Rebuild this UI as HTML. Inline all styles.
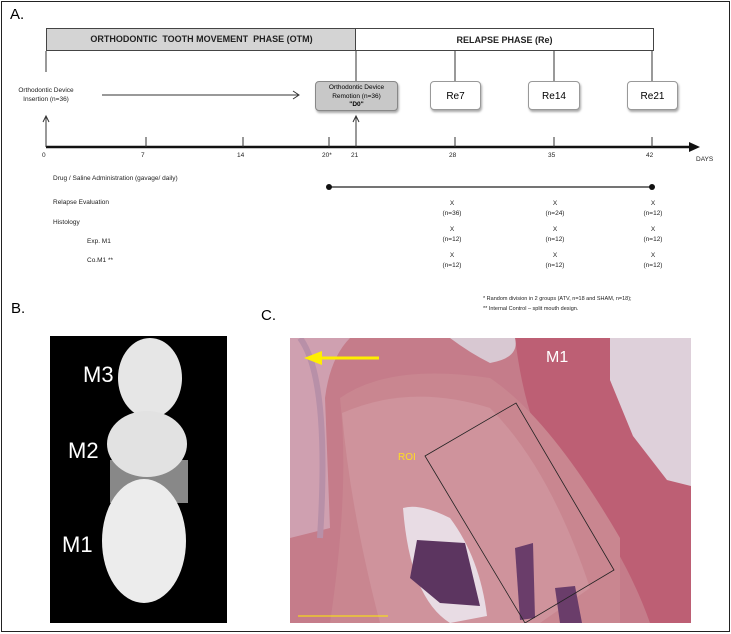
<!DOCTYPE html>
<html><head><style>
body{margin:0;width:731px;height:634px;background:#fff;position:relative;overflow:hidden;font-family:"Liberation Sans",sans-serif}
.a{position:absolute}
.t{position:absolute;font-size:6.5px;color:#222;white-space:nowrap}
.c{text-align:center}
.b{position:absolute;border:1px solid #999;border-radius:4px;box-sizing:border-box;box-shadow:1px 2px 2px #aaa;text-align:center;background:#fff}
</style></head><body>
<div class="a" style="left:1px;top:1px;width:727px;height:629px;border:1px solid #222"></div>
<div class="a" style="left:10px;top:6px;font-size:15px">A.</div>
<div class="a" style="left:46px;top:28px;width:309px;height:21px;background:#d4d4d4;border:1px solid #444;border-right:none;font-size:9px;font-weight:bold;line-height:21px;text-align:center;color:#222">ORTHODONTIC &nbsp;TOOTH MOVEMENT &nbsp;PHASE (OTM)</div>
<div class="a" style="left:355px;top:28px;width:297px;height:21px;border:1px solid #444;font-size:9px;font-weight:bold;line-height:23px;text-align:center;color:#222">RELAPSE PHASE (Re)</div>
<svg class="a" style="left:0;top:0" width="731" height="300">
<g stroke="#333" stroke-width="1" fill="none">
<line x1="46" y1="51" x2="46" y2="72"/><line x1="356" y1="51" x2="356" y2="81"/>
<line x1="455" y1="51" x2="455" y2="81"/><line x1="554" y1="51" x2="554" y2="81"/><line x1="652" y1="51" x2="652" y2="81"/>
<line x1="102" y1="95" x2="298" y2="95"/><polyline points="293,91 299,95 293,99"/>
<line x1="46" y1="137" x2="46" y2="117"/><polyline points="43,122 46,116 49,122"/>
<line x1="356" y1="137" x2="356" y2="117"/><polyline points="353,122 356,116 359,122"/>
</g>
<line x1="46" y1="147" x2="692" y2="147" stroke="#111" stroke-width="2.5"/>
<polygon points="689,142 700,147 689,152" fill="#111"/>
<g stroke="#333" stroke-width="1"><line x1="46" y1="137" x2="46" y2="147"/><line x1="146" y1="137" x2="146" y2="147"/><line x1="243" y1="137" x2="243" y2="147"/><line x1="329" y1="137" x2="329" y2="147"/><line x1="356" y1="137" x2="356" y2="147"/><line x1="455" y1="137" x2="455" y2="147"/><line x1="554" y1="137" x2="554" y2="147"/><line x1="652" y1="137" x2="652" y2="147"/></g>
<line x1="329" y1="187" x2="652" y2="187" stroke="#222" stroke-width="1.2"/>
<circle cx="329" cy="187" r="3" fill="#111"/><circle cx="652" cy="187" r="3" fill="#111"/>
</svg>
<div class="t c" style="left:2px;top:86px;width:88px;line-height:9px">Orthodontic Device<br>Insertion (n=36)</div>
<div class="b" style="left:315px;top:81px;width:83px;height:30px;background:#c8c8c8;border-color:#888;font-size:6.5px;line-height:8.5px;padding-top:2px">Orthodontic Device<br>Remotion (n=36)<br><b>"D0"</b></div>
<div class="b" style="left:430px;top:81px;width:51px;height:29px;font-size:10px;line-height:29px">Re7</div>
<div class="b" style="left:528px;top:81px;width:52px;height:29px;font-size:10px;line-height:29px">Re14</div>
<div class="b" style="left:627px;top:81px;width:51px;height:29px;font-size:10px;line-height:29px">Re21</div>
<div class="t" style="left:42px;top:152px">0</div><div class="t" style="left:141px;top:152px">7</div><div class="t" style="left:237px;top:152px">14</div><div class="t" style="left:322px;top:152px">20*</div><div class="t" style="left:351px;top:152px">21</div><div class="t" style="left:449px;top:152px">28</div><div class="t" style="left:548px;top:152px">35</div><div class="t" style="left:646px;top:152px">42</div><div class="t" style="left:696px;top:156px">DAYS</div>
<div class="t" style="left:53px;top:175px">Drug / Saline Administration (gavage/ daily)</div>
<div class="t" style="left:53px;top:199px">Relapse Evaluation</div>
<div class="t" style="left:53px;top:219px">Histology</div>
<div class="t" style="left:87px;top:238px">Exp. M1</div>
<div class="t" style="left:87px;top:257px">Co.M1 **</div>
<div class="t c" style="left:432px;top:199px;width:40px;line-height:10px">X<br>(n=36)</div>
<div class="t c" style="left:535px;top:199px;width:40px;line-height:10px">X<br>(n=24)</div>
<div class="t c" style="left:633px;top:199px;width:40px;line-height:10px">X<br>(n=12)</div>
<div class="t c" style="left:432px;top:225px;width:40px;line-height:10px">X<br>(n=12)</div>
<div class="t c" style="left:535px;top:225px;width:40px;line-height:10px">X<br>(n=12)</div>
<div class="t c" style="left:633px;top:225px;width:40px;line-height:10px">X<br>(n=12)</div>
<div class="t c" style="left:432px;top:251px;width:40px;line-height:10px">X<br>(n=12)</div>
<div class="t c" style="left:535px;top:251px;width:40px;line-height:10px">X<br>(n=12)</div>
<div class="t c" style="left:633px;top:251px;width:40px;line-height:10px">X<br>(n=12)</div>
<div class="t" style="left:483px;top:294px;font-size:5.5px;line-height:10px">* Random division in 2 groups (ATV, n=18 and SHAM, n=18);<br>** Internal Control – split mouth design.</div>
<div class="a" style="left:11px;top:300px;font-size:15px">B.</div>
<div class="a" style="left:261px;top:307px;font-size:15px">C.</div>
<svg class="a" style="left:50px;top:336px" width="177" height="287">
<rect width="177" height="287" fill="#000"/>
<rect x="60" y="124" width="78" height="43" fill="#888"/>
<ellipse cx="100" cy="42" rx="32" ry="40" fill="#e6e6e6"/>
<ellipse cx="97" cy="108" rx="40" ry="33" fill="#e2e2e2"/>
<ellipse cx="94" cy="205" rx="42" ry="62" fill="#ececec"/>
<text x="33" y="46" fill="#fff" font-size="22" font-family="Liberation Sans">M3</text>
<text x="18" y="122" fill="#fff" font-size="22" font-family="Liberation Sans">M2</text>
<text x="12" y="216" fill="#fff" font-size="22" font-family="Liberation Sans">M1</text>
</svg>
<svg class="a" style="left:290px;top:338px" width="401" height="285">
<rect width="401" height="285" fill="#c57c8a"/>
<path d="M0,0 L60,0 Q40,20 35,60 L40,190 L0,200Z" fill="#cfa0b0"/>
<path d="M225,0 L320,0 L320,42 L343,98 L377,142 L401,148 L401,285 L360,285 Q330,200 260,120 Q235,80 225,0Z" fill="#bd5f74"/>
<path d="M320,0 L401,0 L401,148 L377,142 L343,98 L320,42Z" fill="#ded0da"/>
<path d="M160,0 L225,0 Q230,20 200,25 Q180,15 160,0Z" fill="#d8c8d2"/>
<path d="M50,60 Q100,25 200,40 Q260,80 330,200 L330,285 L40,285 Q60,150 50,60Z" fill="#c98690"/>
<path d="M52,75 Q120,45 200,70 Q260,130 300,250 L250,285 L90,285 Q60,170 52,75Z" fill="#cf939c"/>
<path d="M113,170 Q130,165 160,180 Q190,220 197,278 L160,285 Q120,260 113,170Z" fill="#e8dce4"/>
<path d="M127,202 L175,205 L190,268 L150,265 L120,240Z" fill="#5c3560"/>
<path d="M225,210 L243,205 L245,280 L230,282Z" fill="#6a3d6a"/>
<path d="M265,250 L285,248 L292,285 L270,285Z" fill="#6a3d6a"/>
<path d="M10,0 Q40,40 30,200" stroke="#b890a8" stroke-width="6" fill="none"/>
<polygon points="135,118 226,65 324,232 235,285" fill="none" stroke="#222" stroke-width="0.8"/>
<text x="108" y="122" fill="#ffdd22" font-size="10" font-family="Liberation Sans">ROI</text>
<text x="256" y="24" fill="#fff" font-size="16" font-family="Liberation Sans">M1</text>
<line x1="28" y1="20" x2="89" y2="20" stroke="#ffee00" stroke-width="3"/>
<polygon points="14,20 32,13 32,27" fill="#ffee00"/>
<line x1="8" y1="278" x2="98" y2="278" stroke="#ffee00" stroke-width="1"/>
</svg>
</body></html>
